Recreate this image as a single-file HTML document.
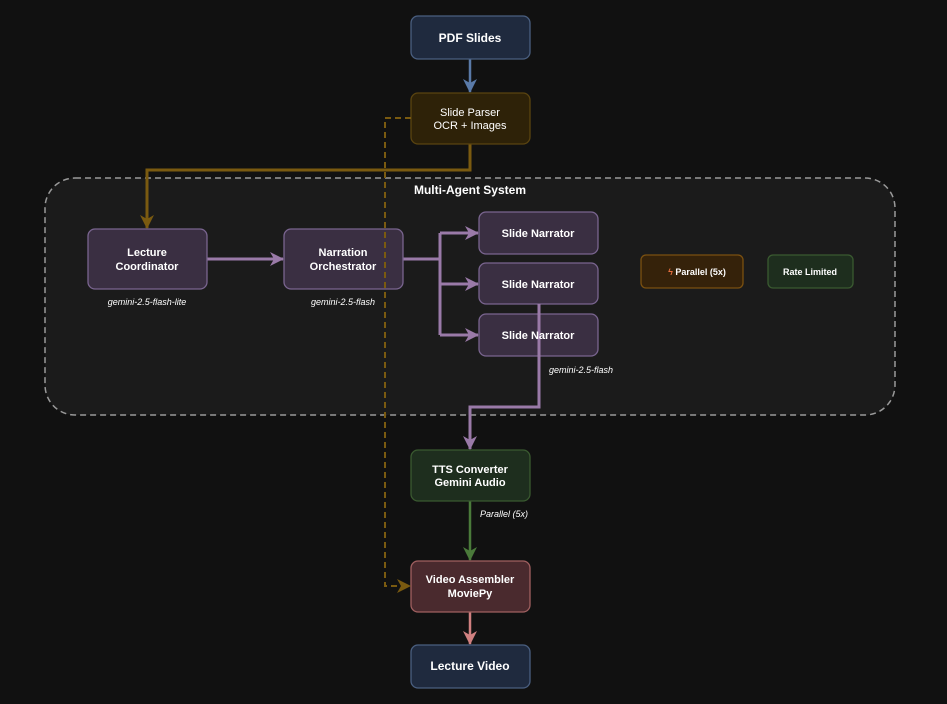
<!DOCTYPE html>
<html><head><meta charset="utf-8"><style>
html,body{margin:0;padding:0;background:#111111;}
svg{display:block;font-family:"Liberation Sans",sans-serif;}
.t{fill:#fff;font-size:11px;font-weight:bold;text-anchor:middle;}
.i{fill:#fff;font-size:9px;font-style:italic;text-anchor:middle;}
</style></head><body>
<svg width="947" height="704" viewBox="0 0 947 704">
<defs>
<marker id="mb" markerWidth="14" markerHeight="14" refX="13" refY="7" orient="auto" markerUnits="userSpaceOnUse"><path d="M0,0 L14,7 L0,14 L4,7z" fill="#5a7aa8"/></marker>
<marker id="my" markerWidth="14" markerHeight="14" refX="13" refY="7" orient="auto" markerUnits="userSpaceOnUse"><path d="M0,0 L14,7 L0,14 L4,7z" fill="#7a5a10"/></marker>
<marker id="mp" markerWidth="14" markerHeight="14" refX="13" refY="7" orient="auto" markerUnits="userSpaceOnUse"><path d="M0,0 L14,7 L0,14 L4,7z" fill="#9a7aa8"/></marker>
<marker id="mg" markerWidth="14" markerHeight="14" refX="13" refY="7" orient="auto" markerUnits="userSpaceOnUse"><path d="M0,0 L14,7 L0,14 L4,7z" fill="#4a7a3a"/></marker>
<marker id="mr" markerWidth="14" markerHeight="14" refX="13" refY="7" orient="auto" markerUnits="userSpaceOnUse"><path d="M0,0 L14,7 L0,14 L4,7z" fill="#d08080"/></marker>
</defs>
<rect x="45" y="178" width="850" height="237" rx="30" fill="#1b1b1b" stroke="#999" stroke-width="1.5" stroke-dasharray="6,4"/>
<text x="470" y="194" class="t" style="font-size:12px">Multi-Agent System</text>

<line x1="470" y1="59" x2="470" y2="92" stroke="#5a7aa8" stroke-width="2.5" marker-end="url(#mb)"/>
<polyline points="470,144 470,170 147,170 147,228" fill="none" stroke="#7a5a10" stroke-width="3" marker-end="url(#my)"/>
<line x1="207" y1="259" x2="283" y2="259" stroke="#9a7aa8" stroke-width="3" marker-end="url(#mp)"/>
<polyline points="403,259 440,259" fill="none" stroke="#9a7aa8" stroke-width="3"/>
<line x1="440" y1="233" x2="440" y2="335" stroke="#9a7aa8" stroke-width="3"/>
<line x1="440" y1="233" x2="478" y2="233" stroke="#9a7aa8" stroke-width="3" marker-end="url(#mp)"/>
<line x1="440" y1="284" x2="478" y2="284" stroke="#9a7aa8" stroke-width="3" marker-end="url(#mp)"/>
<line x1="440" y1="335" x2="478" y2="335" stroke="#9a7aa8" stroke-width="3" marker-end="url(#mp)"/>
<line x1="470" y1="501" x2="470" y2="560" stroke="#4a7a3a" stroke-width="2.5" marker-end="url(#mg)"/>
<line x1="470" y1="612" x2="470" y2="644" stroke="#d08080" stroke-width="2.5" marker-end="url(#mr)"/>

<g stroke-width="1.3">
<rect x="411" y="16" width="119" height="43" rx="7" fill="#1f2a3e" stroke="#4a5f80"/>
<rect x="411" y="93" width="119" height="51" rx="7" fill="#2e2208" stroke="#5a4410"/>
<rect x="88" y="229" width="119" height="60" rx="7" fill="#3a2f42" stroke="#7a6590"/>
<rect x="284" y="229" width="119" height="60" rx="7" fill="#3a2f42" stroke="#7a6590"/>
<rect x="479" y="212" width="119" height="42" rx="7" fill="#3a2f42" stroke="#7a6590"/>
<rect x="479" y="263" width="119" height="41" rx="7" fill="#3a2f42" stroke="#7a6590"/>
<rect x="479" y="314" width="119" height="42" rx="7" fill="#3a2f42" stroke="#7a6590"/>
<rect x="641" y="255" width="102" height="33" rx="5" fill="#35220a" stroke="#7a5010"/>
<rect x="768" y="255" width="85" height="33" rx="5" fill="#1e2e1e" stroke="#3a5a30"/>
<rect x="411" y="450" width="119" height="51" rx="7" fill="#1e2e1e" stroke="#3a5a30"/>
<rect x="411" y="561" width="119" height="51" rx="7" fill="#4a2a2e" stroke="#a06060"/>
<rect x="411" y="645" width="119" height="43" rx="7" fill="#1f2a3e" stroke="#4a5f80"/>
</g>

<polyline points="539,304 539,407 470,407 470,449" fill="none" stroke="#9a7aa8" stroke-width="3" marker-end="url(#mp)"/>
<polyline points="411,118 385,118 385,586 410,586" fill="none" stroke="#7a5a10" stroke-width="2" stroke-dasharray="6,4" marker-end="url(#my)"/>

<text x="470" y="42" class="t" style="font-size:12px">PDF Slides</text>
<text x="470" y="116" class="t" style="font-weight:normal">Slide Parser</text>
<text x="470" y="129" class="t" style="font-weight:normal">OCR + Images</text>
<text x="147" y="256" class="t">Lecture</text>
<text x="147" y="270" class="t">Coordinator</text>
<text x="343" y="256" class="t">Narration</text>
<text x="343" y="270" class="t">Orchestrator</text>
<text x="538" y="237" class="t">Slide Narrator</text>
<text x="538" y="288" class="t">Slide Narrator</text>
<text x="538" y="339" class="t">Slide Narrator</text>
<text x="147" y="305" class="i">gemini-2.5-flash-lite</text>
<text x="343" y="305" class="i">gemini-2.5-flash</text>
<text x="581" y="373" class="i">gemini-2.5-flash</text>
<text x="697" y="275" class="t" style="font-size:9px"><tspan fill="#e87040">ϟ</tspan>  Parallel (5x)</text>
<text x="810" y="275" class="t" style="font-size:9px">Rate Limited</text>
<text x="470" y="473" class="t">TTS Converter</text>
<text x="470" y="486" class="t">Gemini Audio</text>
<text x="504" y="517" class="i">Parallel (5x)</text>
<text x="470" y="583" class="t">Video Assembler</text>
<text x="470" y="597" class="t">MoviePy</text>
<text x="470" y="670" class="t" style="font-size:12px">Lecture Video</text>
</svg>
</body></html>
